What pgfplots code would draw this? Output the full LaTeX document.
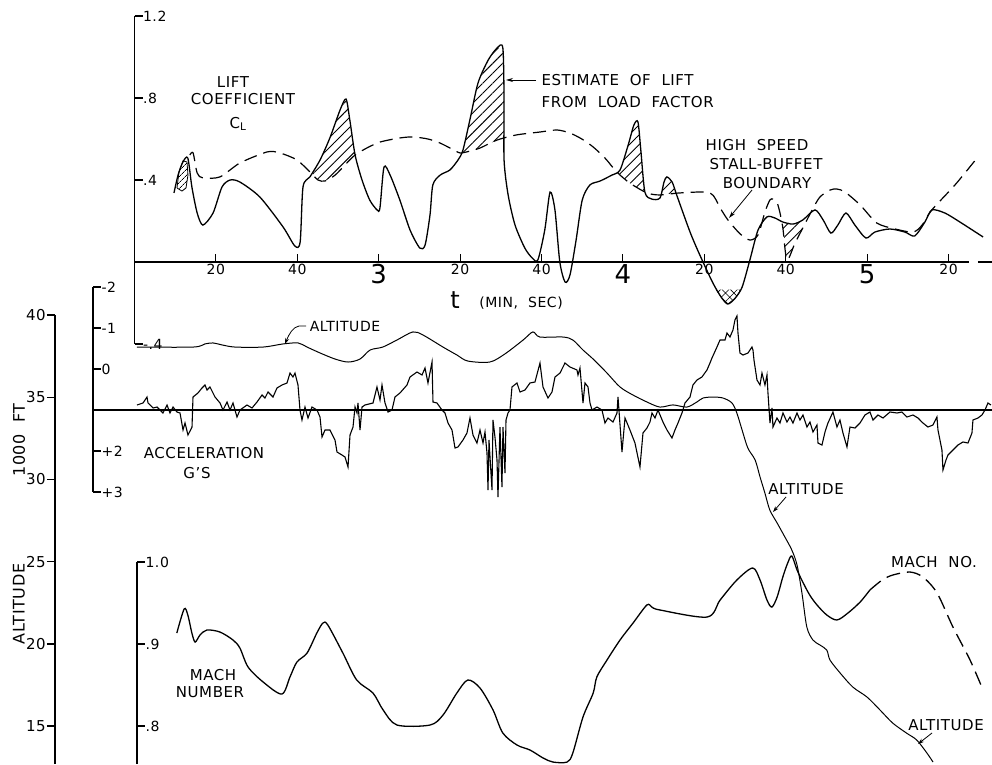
\documentclass[border=0pt]{standalone}
\usepackage{fontspec}
\setmainfont{DejaVu Sans}[LetterSpace=4,WordSpace=2]
\usepackage{pgfplots}
\pgfplotsset{compat=1.18}
\usetikzlibrary{patterns.meta,arrows.meta}
\pgfplotsset{
  base/.style={scale only axis, anchor=south west, clip=false,
    axis y line=left,
    axis line style={-, line width=1.6pt},
    every inner x axis line/.append style={-},
    every outer y axis line/.append style={-},
    major tick length=8pt,
    tick style={black, line width=1.4pt},
    /pgf/number format/assume math mode=true,
    yticklabel style={font=\fontsize{14}{14}\selectfont},
  },
  noxax/.style={axis x line=none, xtick=\empty},
  rlab/.style={ytick align=inside, yticklabel style={anchor=west, xshift=5pt}},
  hatch/.style={draw=none, pattern={Lines[angle=45,distance=7pt,line width=0.9pt]}},
}
\newcommand\lt[1]{{\fontsize{15}{18}\selectfont #1}}
\begin{document}
\begin{tikzpicture}
\path[use as bounding box] (0,0) rectangle (992pt,764pt);

% ---------- Altitude (1000 ft) ----------
\begin{axis}[base, noxax, at={(55pt,0pt)}, width=937pt, height=449pt,
  xmin=-19.53, xmax=210.7, ymin=12.69, ymax=40,
  ytick={15,20,25,30,35,40}, ytick align=outside,
  yticklabel style={font=\fontsize{15}{15}\selectfont, inner sep=1pt}]
\addplot[line width=1pt, smooth, tension=0.5] coordinates {
(0.6,38.05)(14.4,38.05)(17.3,38.24)(19.3,38.30)(21.5,38.18)(24.7,38.05)(31.6,38.05)
(36.5,38.24)(40.2,38.30)(42.4,38.05)(45.6,37.69)(49.3,37.32)(52.5,37.14)(55.4,37.32)
(57.9,37.87)(61.0,38.05)(64.5,38.48)(68.4,38.97)(70.9,38.78)(75.8,38.05)(79.2,37.57)
(81.9,37.20)(87.3,37.14)(91.0,37.63)(95.5,38.48)(97.9,38.97)(99.6,38.66)(105.3,38.66)
(107.7,38.48)(110.2,37.87)(112.7,37.32)(116.1,36.47)(119.3,35.62)(122.5,35.13)
(125.9,34.71)(129.1,34.40)(132.3,34.53)(135.7,34.40)(138.2,34.71)(139.7,34.95)
(142.1,35.01)(144.6,34.95)(146.8,34.65)(148.0,34.04)(149.3,33.00)(150.7,31.91)
(152.5,31.18)(153.7,30.15)(154.9,29.17)(156.1,28.14)(157.9,27.35)(159.8,26.50)
(161.5,25.71)(162.8,24.79)(164.0,23.09)(165.2,21.02)(166.7,20.23)(168.4,19.93)
(170.1,19.62)(170.9,19.01)(173.4,18.22)(176.5,17.37)(180.0,16.76)(183.2,15.97)
(186.3,15.18)(189.7,14.57)(192.2,14.15)(194.7,13.36)(196.2,12.81)};
\end{axis}

% ---------- Acceleration (g) ----------
\begin{axis}[base, noxax, rlab, at={(93pt,272pt)}, width=899pt, height=205pt,
  xmin=-10.2, xmax=210.7, ymin=-2, ymax=3, y dir=reverse,
  ytick={-2,-1,0,2,3}, yticklabels={-2,-1,0,+2,+3}]
\addplot[line width=1.5pt] coordinates {(-10.2,1) (210.7,1)};
\addplot[line width=1.1pt] coordinates {
(0.61,0.878)(2.09,0.829)(3.07,0.683)(3.32,0.829)(4.55,0.951)(5.53,0.927)(6.27,1.0)
(7.00,1.073)(7.99,0.878)(8.72,1.073)(9.46,0.927)(10.44,1.049)(11.18,1.073)(11.92,1.488)
(12.41,1.317)(13.14,1.610)(14.13,1.415)(14.37,0.683)(15.60,0.585)(16.58,0.463)
(17.32,0.390)(17.81,0.512)(18.55,0.439)(19.78,0.683)(21.01,0.829)(21.74,1.0)
(22.73,0.805)(23.46,1.0)(24.20,0.829)(25.18,1.171)(25.92,1.0)(27.64,0.878)(28.87,0.951)
(30.10,0.805)(31.33,0.634)(32.06,0.707)(32.80,0.561)(34.03,0.683)(35.01,0.463)
(36.24,0.390)(37.47,0.341)(38.21,0.098)(38.94,0.195)(39.43,0.098)(40.17,0.390)
(40.66,1.0)(41.15,1.244)(41.89,0.927)(42.63,1.195)(43.61,0.927)(44.84,1.0)(45.58,1.171)
(46.07,1.659)(46.81,1.488)(48.03,1.488)(49.26,1.732)(49.75,2.024)(50.98,2.098)
(51.72,2.146)(52.46,2.390)(52.95,1.610)(53.69,1.415)(54.18,0.927)(54.67,1.073)
(54.91,0.829)(55.41,1.488)(55.90,0.927)(56.63,0.878)(58.60,0.829)(59.58,0.439)
(60.32,0.756)(60.81,0.390)(61.55,0.829)(62.29,1.049)(63.27,1.0)(64.00,0.683)
(65.23,0.585)(66.95,0.390)(67.69,0.195)(69.41,0.073)(70.64,0.146)(71.38,-0.024)
(72.11,0.341)(73.10,-0.171)(73.34,0.805)(74.32,0.829)(75.55,1.0)(76.29,1.073)
(77.03,1.317)(78.01,1.488)(78.75,1.927)(79.48,1.902)(80.71,1.732)(81.69,1.561)
(82.43,1.195)(83.17,1.610)(84.15,1.805)(84.89,1.488)(85.63,1.805)(86.12,1.537)
(86.61,2.049)(86.86,2.951)(87.10,1.732)(87.84,2.951)(88.08,1.244)(88.57,1.659)
(89.07,2.220)(89.31,3.122)(89.80,1.415)(90.29,2.878)(90.54,1.415)(91.03,2.537)
(91.28,1.244)(91.77,1.073)(92.26,1.0)(92.75,0.439)(93.98,0.341)(94.72,0.561)
(95.95,0.512)(97.17,0.341)(98.40,0.317)(99.63,-0.146)(100.37,0.439)(101.60,0.707)
(102.58,0.561)(103.32,0.195)(104.55,0.098)(105.77,-0.146)(107.00,-0.049)(108.72,0.024)
(108.97,0.146)(109.46,-0.024)(110.20,0.829)(110.69,0.341)(111.43,0.439)(111.92,0.829)
(112.41,1.0)(113.64,0.927)(114.86,1.0)(115.60,1.317)(116.34,1.195)(117.57,1.293)
(118.55,1.073)(118.80,0.683)(119.78,2.024)(120.52,1.195)(121.74,1.488)(122.97,1.805)
(124.20,2.390)(124.94,1.561)(125.92,1.439)(126.66,1.293)(127.15,1.073)(127.89,1.195)
(128.62,1.0)(129.85,1.293)(130.84,1.488)(132.06,1.683)(132.80,1.488)(133.54,1.317)
(134.52,1.073)(135.26,0.829)(136.49,0.683)(137.22,0.390)(138.21,0.268)(139.43,0.195)
(140.66,0.024)(141.40,-0.146)(141.89,-0.268)(143.12,-0.537)(143.86,-0.707)
(145.09,-0.707)(145.58,-0.878)(146.31,-0.780)(147.05,-0.951)(147.54,-1.195)
(148.03,-1.293)(148.28,-0.878)(148.77,-0.390)(149.51,-0.341)(150.74,-0.390)
(151.72,-0.537)(151.97,-0.463)(152.21,-0.220)(152.95,0.268)(153.69,0.390)(154.18,0.098)
(154.91,0.390)(155.41,0.146)(155.65,0.585)(156.14,1.317)(156.63,0.951)(156.88,1.415)
(157.86,1.195)(158.60,1.317)(159.34,1.073)(160.32,1.293)(161.06,1.171)(161.79,1.317)
(162.78,1.073)(163.51,1.244)(164.25,1.122)(165.23,1.415)(165.97,1.293)(166.71,1.537)
(167.69,1.366)(167.94,1.805)(168.92,1.854)(169.66,1.537)(170.39,1.317)(171.62,1.049)
(172.60,1.415)(173.34,1.244)(174.08,1.561)(175.06,1.902)(175.80,1.415)(177.03,1.439)
(178.26,1.317)(179.48,1.122)(180.71,1.049)(181.45,1.244)(182.68,1.122)(183.91,1.195)
(185.63,1.049)(187.35,1.073)(188.57,1.049)(189.80,1.171)(191.28,1.122)(192.51,1.195)
(193.73,1.317)(194.96,1.415)(196.19,1.366)(197.17,1.171)(197.42,1.488)(198.40,1.976)
(198.65,2.463)(199.39,2.220)(199.88,2.098)(201.11,1.976)(202.33,1.854)(203.56,1.780)
(204.79,1.805)(205.77,1.561)(206.02,1.244)(207.25,1.195)(208.23,1.122)(208.97,1.0)
(209.71,0.829)(210.44,0.878)};
\end{axis}

% ---------- Mach number ----------
\begin{axis}[base, noxax, rlab, at={(137pt,0pt)}, width=855pt, height=202pt,
  xmin=0.614, xmax=210.7, ymin=0.7537, ymax=1.0,
  ytick={0.8,0.9,1.0}, yticklabels={.8,.9,1.0}]
\addplot[line width=1.3pt, smooth, tension=0.5] coordinates {
(10.4,0.9134)(12.2,0.9427)(13.1,0.9354)(14.1,0.9134)(14.9,0.9024)(16.1,0.9110)
(17.8,0.9171)(21.0,0.9146)(24.2,0.9049)(25.9,0.8951)(27.9,0.8720)(31.6,0.8537)
(36.2,0.8390)(38.2,0.8598)(39.9,0.8780)(42.4,0.8890)(44.8,0.9134)(46.3,0.9256)
(47.5,0.9232)(51.2,0.8890)(54.6,0.8561)(58.6,0.8402)(61.1,0.8195)(64.5,0.8012)
(72.6,0.8012)(75.8,0.8134)(79.2,0.8402)(81.9,0.8561)(84.9,0.8463)(88.1,0.8195)
(90.5,0.7915)(94.0,0.7768)(97.2,0.7707)(100.4,0.7610)(102.8,0.7561)(106.3,0.7561)
(107.7,0.7671)(110.2,0.8110)(112.7,0.8402)(113.6,0.8598)(116.1,0.8805)(119.3,0.9049)
(122.5,0.9256)(125.9,0.9476)(127.1,0.9451)(129.1,0.9415)(140.7,0.9329)(143.9,0.9537)
(148.0,0.9780)(151.9,0.9927)(153.7,0.9780)(155.4,0.9537)(156.6,0.9451)(157.9,0.9573)
(159.3,0.9817)(160.5,0.9988)(161.5,1.0073)(162.8,0.9902)(164.2,0.9756)(165.9,0.9598)
(167.7,0.9476)(170.1,0.9354)(172.6,0.9293)(175.3,0.9378)(178.3,0.9512)(180.7,0.9659)};
\addplot[line width=1.3pt, smooth, tension=0.5, dash pattern=on 14pt off 7pt] coordinates {
(180.7,0.9659)(183.7,0.9780)(186.3,0.9841)(190.5,0.9878)(193.7,0.9817)(197.2,0.9622)
(201.1,0.9207)(205.3,0.8805)(208.5,0.8439)};
\end{axis}

% ---------- Lift coefficient ----------
\begin{axis}[base, rlab, at={(134.5pt,420pt)}, width=834.35pt, height=328pt,
  xmin=0, xmax=205, ymin=-0.4, ymax=1.2,
  axis x line=middle, x axis line style={-},
  ytick={-0.4,0.4,0.8,1.2}, yticklabels={-.4,.4,.8,1.2},
  xtick={20,40,60,80,100,120,140,160,180,200},
  xticklabels={20,40,{\fontsize{26}{26}\selectfont 3},20,40,{\fontsize{26}{26}\selectfont 4},20,40,{\fontsize{26}{26}\selectfont 5},20},
  xtick align=inside, xtick style={line width=1pt},
  xticklabel style={anchor=north, font=\fontsize{14}{14}\selectfont, inner sep=2pt}]
% hatched regions where lift exceeds the buffet boundary
\addplot[hatch] coordinates {(43.8,0.43)(45.6,0.498)(48.0,0.605)(50.5,0.741)(51.97,0.795)(52.9,0.693)(54.0,0.52)(51.7,0.473)(49.3,0.424)(46.8,0.395)(45.1,0.400)};
\addplot[hatch] coordinates {(80.3,0.533)(80.7,0.546)(82.4,0.693)(84.4,0.873)(86.9,0.985)(89.1,1.044)(90.5,1.044)(90.8,0.790)(90.8,0.600)(89.1,0.595)(84.9,0.556)(82.4,0.541)};
\addplot[hatch] coordinates {(118.7,0.44)(119.3,0.449)(121.3,0.571)(122.7,0.668)(123.7,0.683)(124.4,0.546)(125.3,0.345)(121.7,0.385)(119.3,0.425)};
\addplot[hatch] coordinates {(129.4,0.33)(130.1,0.390)(130.8,0.415)(132.1,0.390)(133.2,0.336)(131.0,0.332)};
\addplot[hatch] coordinates {(159.0,0.20)(161.8,0.185)(164.2,0.205)(166.8,0.25)(164.7,0.185)(162.3,0.093)(160.3,0.010)(159.3,0.166)};
\addplot[draw=black, line width=0.6pt, pattern={Hatch[angle=45,distance=6pt,line width=0.6pt]}] coordinates {(142.9,-0.135)(144.3,-0.176)(145.8,-0.205)(147.6,-0.176)(149.0,-0.135)};
\addplot[draw=black, line width=0.8pt, pattern={Lines[angle=45,distance=4pt,line width=0.7pt]}] coordinates {
(10.44,0.361)(10.93,0.439)(11.92,0.493)(12.90,0.488)(13.14,0.424)(12.65,0.361)(11.67,0.346)(10.44,0.361)};
\addplot[line width=1.3pt, smooth, tension=0.45] coordinates {
(9.7,0.337)(10.7,0.424)(11.9,0.488)(13.1,0.507)(14.1,0.366)(15.4,0.239)(16.8,0.180)
(19.3,0.239)(21.5,0.366)(23.5,0.400)(25.9,0.390)(30.8,0.317)(36.5,0.171)(39.4,0.078)
(40.7,0.098)(41.4,0.366)(43.1,0.415)(45.6,0.498)(48.0,0.605)(50.5,0.741)(51.97,0.795)
(52.9,0.693)(54.2,0.522)(55.9,0.400)(57.8,0.302)(59.6,0.254)(60.3,0.263)(61.3,0.463)
(62.8,0.424)(65.2,0.302)(67.7,0.156)(70.1,0.068)(71.4,0.083)(72.6,0.229)(73.3,0.376)
(75.1,0.424)(77.5,0.449)(79.5,0.498)(80.7,0.546)(82.4,0.693)(84.4,0.873)(86.9,0.985)
(89.1,1.044)(90.5,1.044)(90.8,0.790)(90.8,0.498)(91.8,0.327)(93.5,0.180)(95.9,0.068)
(97.7,0.020)(99.1,0.010)(100.8,0.156)(102.1,0.341)(103.3,0.254)(104.5,0.0)(105.8,-0.098)
(107.0,-0.063)(108.5,0.107)(110.0,0.302)(111.9,0.376)(114.4,0.395)(117.3,0.424)
(119.3,0.449)(121.3,0.571)(122.7,0.668)(123.7,0.683)(124.4,0.546)(125.4,0.341)
(127.1,0.307)(129.1,0.312)(130.1,0.390)(130.8,0.415)(132.1,0.390)(133.3,0.322)
(136.5,0.146)(138.9,0.034)(142.1,-0.102)(144.3,-0.176)(145.8,-0.205)(147.6,-0.176)
(149.3,-0.122)(151.2,0.010)(153.2,0.156)(155.4,0.220)(157.3,0.215)(159.3,0.195)
(161.8,0.185)(164.2,0.205)(167.2,0.254)(169.2,0.205)(171.1,0.141)(172.8,0.180)
(174.8,0.239)(177.0,0.180)(179.7,0.117)(181.9,0.146)(185.6,0.161)(189.3,0.146)
(191.7,0.127)(194.2,0.195)(195.9,0.254)(199.1,0.239)(202.8,0.195)(208.5,0.122)};
\addplot[line width=1.2pt, smooth, tension=0.45, dash pattern=on 13pt off 7pt] coordinates {
(13.6,0.522)(14.4,0.532)(15.4,0.434)(16.8,0.410)(21.0,0.415)(25.9,0.483)(32.6,0.537)
(35.7,0.532)(39.9,0.498)(43.1,0.439)(45.1,0.400)(46.8,0.395)(49.3,0.424)(51.7,0.473)
(53.9,0.517)(56.6,0.551)(60.3,0.585)(65.2,0.605)(68.4,0.610)(72.1,0.600)(75.1,0.580)
(78.0,0.551)(80.0,0.532)(82.4,0.541)(84.9,0.556)(89.1,0.595)(93.9,0.620)(99.6,0.634)
(103.8,0.644)(107.0,0.629)(109.9,0.600)(112.7,0.561)(115.6,0.507)(118.5,0.439)
(121.7,0.385)(125.9,0.337)(129.1,0.327)(134.1,0.337)(141.4,0.337)(143.9,0.263)
(145.8,0.205)(148.8,0.137)(151.2,0.107)(153.2,0.132)(154.9,0.244)(156.1,0.302)
(156.9,0.307)(157.9,0.288)(158.6,0.239)(159.3,0.166)(160.3,0.010)(162.3,0.093)
(164.7,0.185)(166.5,0.254)(168.4,0.317)(170.9,0.351)(172.6,0.356)(174.6,0.341)
(178.3,0.278)(182.4,0.190)(186.9,0.161)(191.3,0.146)(193.5,0.180)(195.9,0.254)
(201.6,0.376)(207.0,0.507)};
\addplot[line width=1.6pt] coordinates {(207.2,0) (210.7,0)};
\end{axis}

% ---------- labels ----------
\begin{scope}[x=1pt, y=-1pt, shift={(0pt,764pt)}]
\node at (233,82) {\lt{LIFT}};
\node at (243,99) {\lt{COEFFICIENT}};
\node at (238,124) {\lt{C\textsubscript{L}}};
\node[anchor=west] at (538,80) {\lt{ESTIMATE OF LIFT}};
\node[anchor=west] at (538,102) {\lt{FROM LOAD FACTOR}};
\draw[line width=0.8pt, -{Stealth[length=7pt,width=4pt]}] (536,80) -- (506,80);
\node at (757,145) {\lt{HIGH SPEED}};
\node at (766,164) {\lt{STALL-BUFFET}};
\node at (767,183) {\lt{BOUNDARY}};
\draw[line width=0.8pt, -{Stealth[length=7pt,width=4pt]}] (752,190) -- (729,218);
\node at (455,300) {\fontsize{24}{24}\selectfont t};
\node at (521,303) {\fontsize{14}{14}\selectfont (MIN, SEC)};
\node at (345,326) {\fontsize{14}{14}\selectfont ALTITUDE};
\draw[line width=0.8pt, -{Stealth[length=6pt,width=4pt]}] (306,326) -- (299,326) .. controls (293,327) and (289,334) .. (285,344);
\node at (204,453) {\lt{ACCELERATION}};
\node at (197,473) {\lt{G'S}};
\node[rotate=90] at (19,440) {\fontsize{16}{16}\selectfont 1000 FT};
\node[rotate=90] at (19,604) {\fontsize{16}{16}\selectfont ALTITUDE};
\node at (806,489) {\lt{ALTITUDE}};
\draw[line width=0.8pt, -{Stealth[length=6pt,width=4pt]}] (786,497) -- (773,512);
\node at (934,562) {\lt{MACH NO.}};
\node at (946,725) {\lt{ALTITUDE}};
\draw[line width=0.8pt, -{Stealth[length=6pt,width=4pt]}] (932,733) -- (918,744);
\node at (213,675) {\lt{MACH}};
\node at (210,692) {\lt{NUMBER}};
\end{scope}
\end{tikzpicture}
\end{document}
